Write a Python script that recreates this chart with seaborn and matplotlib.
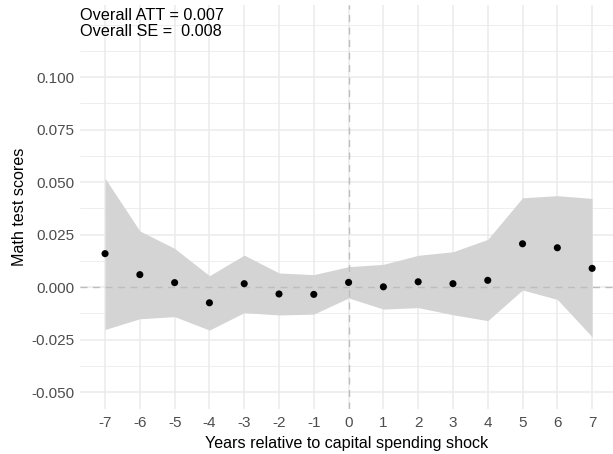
import numpy as np
import pandas as pd
import matplotlib
matplotlib.use("Agg")
import matplotlib.pyplot as plt
import seaborn as sns

years = [-7, -6, -5, -4, -3, -2, -1, 0, 1, 2, 3, 4, 5, 6, 7]
att = [0.0159, 0.0059, 0.0021, -0.0075, 0.0016, -0.0033, -0.0035, 0.0022,
       0.0001, 0.0025, 0.0016, 0.0032, 0.0206, 0.0187, 0.0089]
upper = [0.0518, 0.0267, 0.0184, 0.0054, 0.0152, 0.0067, 0.0059, 0.0097,
         0.0108, 0.0151, 0.0168, 0.0227, 0.0425, 0.0435, 0.0422]
lower = [-0.0202, -0.0151, -0.0141, -0.0205, -0.0122, -0.0133, -0.0129, -0.0052,
         -0.0105, -0.0098, -0.0132, -0.0160, -0.0014, -0.0059, -0.0237]
y_ticks = [-0.050, -0.025, 0.000, 0.025, 0.050, 0.075, 0.100]
y_tick_labels = ["-0.050", "-0.025", "0.000", "0.025", "0.050", "0.075", "0.100"]
annotation = "Overall ATT = 0.007\nOverall SE =  0.008"

df = pd.DataFrame({"year": years, "att": att, "upper": upper, "lower": lower})

sns.set_theme(style="white")
plt.rcParams["font.family"] = ["Liberation Sans", "DejaVu Sans"]

fig = plt.figure(figsize=(6.13, 4.54), dpi=100)
ax = fig.add_axes([0.1305, 0.099, 0.8695, 0.89])

# grid
minor_y = [-0.0375, -0.0125, 0.0125, 0.0375, 0.0625, 0.0875, 0.1125, 0.125]
for v in minor_y:
    ax.axhline(v, color="#EBEBEB", lw=0.6, zorder=0)
for v in y_ticks:
    ax.axhline(v, color="#EBEBEB", lw=1.1, zorder=0)
for v in years:
    ax.axvline(v, color="#EBEBEB", lw=1.1, zorder=0)

ax.fill_between(df["year"], df["lower"], df["upper"], color="#D4D4D4", lw=0, zorder=1)
ax.axhline(0, color="#BDBDBD", lw=1.0, ls=(0, (5, 4)), zorder=2)
ax.axvline(0, color="#BDBDBD", lw=1.0, ls=(0, (5, 4)), zorder=2)

sns.scatterplot(data=df, x="year", y="att", ax=ax, color="black", s=26,
                edgecolor="none", zorder=3)

ax.set_xlim(-7.72, 7.6)
ax.set_ylim(-0.0581, 0.1343)
ax.set_xticks(years)
ax.set_xticklabels([str(y) for y in years])
ax.set_yticks(y_ticks)
ax.set_yticklabels(y_tick_labels)
ax.tick_params(axis="both", labelsize=11, colors="#4D4D4D", length=0)
ax.tick_params(axis="x", pad=5)
ax.tick_params(axis="y", pad=4)
for s in ax.spines.values():
    s.set_visible(False)

ax.set_xlabel("Years relative to capital spending shock", fontsize=11.6, color="black", labelpad=4)
ax.set_ylabel("Math test scores", fontsize=11.6, color="black", labelpad=3)

ax.text(0.0, 0.992, annotation, transform=ax.transAxes, ha="left", va="top",
        fontsize=11.7, color="black", linespacing=1.08)

fig.savefig("out.png", dpi=100)
